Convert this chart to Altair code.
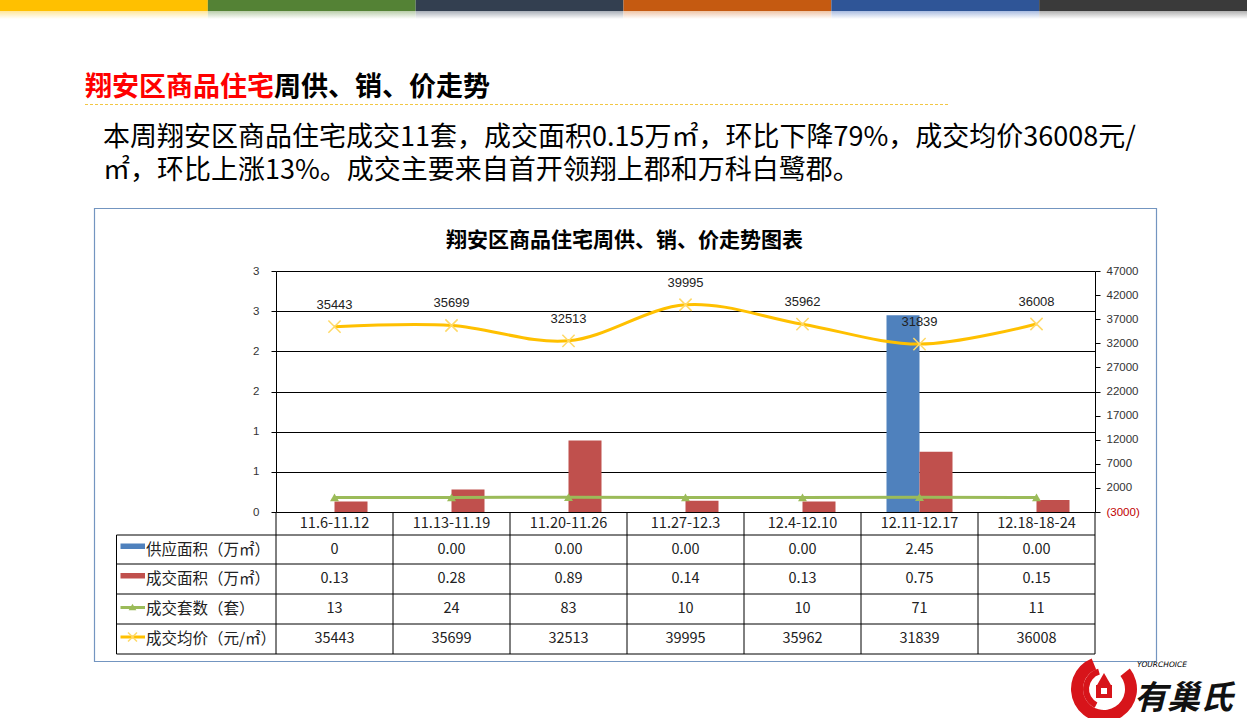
import altair as alt
import pandas as pd

# ---------------- data ----------------
weeks = ["11.6-11.12", "11.13-11.19", "11.20-11.26", "11.27-12.3",
         "12.4-12.10", "12.11-12.17", "12.18-18-24"]
supply_area = [0, 0, 0, 0, 0, 2.45, 0]            # 供应面积（万㎡）
supply_text = ["0", "0.00", "0.00", "0.00", "0.00", "2.45", "0.00"]
sold_area = [0.13, 0.28, 0.89, 0.14, 0.13, 0.75, 0.15]   # 成交面积（万㎡）
sold_units = [13, 24, 83, 10, 10, 71, 11]                 # 成交套数（套）
avg_price = [35443, 35699, 32513, 39995, 35962, 31839, 36008]  # 成交均价（元/㎡）

left_ticks = [0, 0.5, 1, 1.5, 2, 2.5, 3]
right_ticks = [-3000, 2000, 7000, 12000, 17000, 22000, 27000, 32000, 37000, 42000, 47000]

row_names = ["供应面积（万㎡）", "成交面积（万㎡）", "成交套数（套）", "成交均价（元/㎡）"]

page_title_red = "翔安区商品住宅"
page_title_black = "周供、销、价走势"
para_1 = "本周翔安区商品住宅成交11套，成交面积0.15万㎡，环比下降79%，成交均价36008元/"
para_2 = "㎡，环比上涨13%。成交主要来自首开领翔上郡和万科白鹭郡。"
chart_title = "翔安区商品住宅周供、销、价走势图表"

stripe_colors = ["#FFC000", "#548235", "#333F50", "#C55A11", "#2F5597", "#3A3A3A"]
stripe_tints = ["#FFE699", "#B9CDAA", "#A9AFB8", "#EEC4A6", "#AABCE0", "#B0B0B0"]

CJK = "Noto Sans CJK SC"
NUM = "Liberation Sans"

BLUE = "#4F81BD"
RED = "#C0504D"
GREEN = "#9BBB59"
GOLD = "#FFC000"

# plot area in page pixels
PX0, PY0, W, H = 276, 271, 819, 241


def X(v):
    return alt.value(v - PX0)


def Y(v):
    return alt.value(v - PY0)


one = pd.DataFrame({"a": [0]})

df = pd.DataFrame({
    "week": weeks,
    "supply": supply_area,
    "supply_t": supply_text,
    "sold": sold_area,
    "units": sold_units,
    "price": avg_price,
})
df["sold_t"] = [f"{v:.2f}" for v in sold_area]
df["units_t"] = [str(v) for v in sold_units]
df["price_t"] = [str(v) for v in avg_price]

xenc = alt.X("week:N", sort=weeks,
             scale=alt.Scale(domain=weeks, paddingInner=0, paddingOuter=0),
             axis=None, title=None)

left_axis = alt.Axis(
    orient="left", values=left_ticks, labelExpr="format(round(datum.value), 'd')",
    grid=True, gridColor="#000000", gridWidth=1, domain=True, domainColor="#000000",
    ticks=True, tickColor="#000000", tickSize=5, labelFont=NUM, labelFontSize=11.5,
    labelColor="#333333", labelPadding=12, title=None)
left_scale = alt.Scale(domain=[0, 3], nice=False, zero=True)

right_axis = alt.Axis(
    orient="right", values=right_ticks,
    labelExpr="datum.value < 0 ? '(' + format(-datum.value, 'd') + ')' : format(datum.value, 'd')",
    labelColor={"condition": {"test": "datum.value < 0", "value": "#C00000"}, "value": "#333333"},
    grid=False, domain=True, domainColor="#000000", ticks=True, tickColor="#000000",
    tickSize=5, labelFont=NUM, labelFontSize=11.5, labelPadding=6, title=None)
right_scale = alt.Scale(domain=[-3000, 47000], nice=False, zero=False)

# ---------------- bars (left axis) ----------------
blue_bar = alt.Chart(df).mark_bar(size=33, xOffset=-16.5, color=BLUE).encode(
    x=xenc, y=alt.Y("supply:Q", scale=left_scale, axis=left_axis))
red_bar = alt.Chart(df).mark_bar(size=33, xOffset=16.5, color=RED).encode(
    x=xenc, y=alt.Y("sold:Q", scale=left_scale, axis=left_axis))
bars = alt.layer(blue_bar, red_bar)

# ---------------- lines (right axis) ----------------
XSHAPE = "M-1,-1L1,1M-1,1L1,-1"
unit_line = alt.Chart(df).mark_line(color=GREEN, strokeWidth=3).encode(
    x=xenc, y=alt.Y("units:Q", scale=right_scale, axis=right_axis))
unit_pts = alt.Chart(df).mark_point(shape="triangle-up", filled=True, size=80,
                                    color=GREEN, opacity=1).encode(
    x=xenc, y=alt.Y("units:Q", scale=right_scale, axis=right_axis))
price_line = alt.Chart(df).mark_line(color=GOLD, strokeWidth=3, interpolate="cardinal").encode(
    x=xenc, y=alt.Y("price:Q", scale=right_scale, axis=right_axis))
price_pts = alt.Chart(df).mark_point(shape=XSHAPE, filled=False, size=150,
                                     color="#FFD966", strokeWidth=1.5, opacity=1).encode(
    x=xenc, y=alt.Y("price:Q", scale=right_scale, axis=right_axis))
price_lbl = alt.Chart(df).mark_text(dy=-18, baseline="alphabetic", fontSize=13,
                                    font=NUM, color="#222222").encode(
    x=xenc, y=alt.Y("price:Q", scale=right_scale, axis=right_axis), text="price_t:N")
lines = alt.layer(unit_line, unit_pts, price_line, price_pts, price_lbl)

# ---------------- decorations ----------------
deco = []


def text(s, x, y, size, color="#000000", weight="normal", align="left",
         baseline="alphabetic", font=CJK, style="normal", **extra):
    deco.append(alt.Chart(pd.DataFrame({"t": [s]})).mark_text(
        align=align, baseline=baseline, fontSize=size, fontWeight=weight,
        color=color, font=font, fontStyle=style, **extra).encode(x=X(x), y=Y(y), text="t:N"))


def rect(x1, y1, x2, y2, fill=None, stroke=None, sw=1):
    kw = {}
    if fill is not None:
        kw["fill"] = fill
    else:
        kw["fillOpacity"] = 0
        kw["fill"] = "#ffffff"
    if stroke is not None:
        kw["stroke"] = stroke
        kw["strokeWidth"] = sw
    deco.append(alt.Chart(one).mark_rect(**kw).encode(x=X(x1), x2=X(x2), y=Y(y1), y2=Y(y2)))


def rule(x1, y1, x2, y2, color="#000000", sw=1, dash=None):
    kw = {"color": color, "strokeWidth": sw}
    if dash:
        kw["strokeDash"] = dash
    deco.append(alt.Chart(one).mark_rule(**kw).encode(x=X(x1), x2=X(x2), y=Y(y1), y2=Y(y2)))


# top stripes
sw_ = 1247 / 6
for i, (c, t) in enumerate(zip(stripe_colors, stripe_tints)):
    rect(i * sw_, 0, (i + 1) * sw_, 11, fill=c)
    grad = alt.LinearGradient(gradient="linear",
                              stops=[alt.GradientStop(color=t, offset=0),
                                     alt.GradientStop(color="#ffffff", offset=1)],
                              x1=0, x2=0, y1=0, y2=1)
    deco.append(alt.Chart(one).mark_rect(color=grad).encode(
        x=X(i * sw_), x2=X((i + 1) * sw_), y=Y(11), y2=Y(19)))

# page title
text(page_title_red, 85, 96, 27, color="#FF0000", weight="bold")
text(page_title_black, 274, 96, 27, color="#000000", weight="bold")
rule(85, 104.5, 948, 104.5, color="#F2C744", sw=1, dash=[3, 2])

# paragraph (two lines in one text mark)
text(para_1 + "\n" + para_2, 103, 146, 27, color="#000000",
     lineBreak="\n", lineHeight=32.5)

# chart box
rect(94.5, 208.5, 1156.5, 661.5, stroke="#7395C0", sw=1.2)
text(chart_title, 624.5, 247, 21, weight="bold", align="center")

# ---------------- table ----------------
T_TOP, T_HDR, T_BOT = 512, 535, 654
row_lines = [535, 564, 594, 624, 654]
row_mid = [549.5, 579, 609, 639]
TL = 116.5

# vertical column separators (category band starts) + right edge
deco.append(alt.Chart(df).mark_rule(color="#000000", strokeWidth=1).encode(
    x=alt.X("week:N", sort=weeks, bandPosition=0,
            scale=alt.Scale(domain=weeks, paddingInner=0, paddingOuter=0), axis=None),
    y=Y(T_TOP), y2=Y(T_BOT)))
rule(PX0 + W, T_TOP, PX0 + W, T_BOT)
rule(TL, T_HDR, TL, T_BOT)
for yy in row_lines:
    rule(TL, yy, PX0 + W, yy)

# header row (week labels)
deco.append(alt.Chart(df).mark_text(baseline="middle", fontSize=14.5, font=CJK,
                                    color="#222222").encode(
    x=xenc, y=Y(523.5), text="week:N"))
# data rows
for field, ym in zip(["supply_t", "sold_t", "units_t", "price_t"], row_mid):
    deco.append(alt.Chart(df).mark_text(baseline="middle", fontSize=14.5, font=CJK,
                                        color="#222222").encode(
        x=xenc, y=Y(ym), text=f"{field}:N"))

# row headers with legend keys
for name, ym in zip(row_names, row_mid):
    text(name, 146, ym, 15.5, color="#222222", baseline="middle")
rect(120.5, 543.5, 145, 549, fill=BLUE)
rect(120.5, 573, 145, 578.5, fill=RED)
rule(120.5, 607.5, 145, 607.5, color=GREEN, sw=3)
deco.append(alt.Chart(one).mark_point(shape="triangle-up", filled=True, size=60,
                                      color=GREEN, opacity=1).encode(x=X(132.5), y=Y(607)))
rule(120.5, 637, 145, 637, color=GOLD, sw=3)
deco.append(alt.Chart(one).mark_point(shape=XSHAPE, filled=False, size=80,
                                      color="#FFD966", strokeWidth=1.5, opacity=1).encode(
    x=X(132.5), y=Y(637)))

# ---------------- logo ----------------
deco.append(alt.Chart(one).mark_arc(radius=33, radius2=21, theta=0.9, theta2=5.9,
                                    color="#D7141A").encode(x=X(1104), y=Y(689)))
deco.append(alt.Chart(one).mark_arc(radius=21, radius2=15, theta=3.6, theta2=6.0,
                                    color="#D7141A").encode(x=X(1104), y=Y(689)))
rect(1096, 685, 1112, 698, fill="#D7141A")
deco.append(alt.Chart(one).mark_point(shape="triangle-up", filled=True, size=260,
                                      color="#D7141A", opacity=1).encode(x=X(1104), y=Y(680)))
rect(1101, 688, 1107, 694, fill="#ffffff")
text("YOURCHOICE", 1137, 667, 7.5, color="#000000", style="italic", font="DejaVu Sans")
text("有巢氏", 1134, 709, 33, color="#111111", weight="bold", style="italic")

chart = alt.layer(bars, lines, *deco).resolve_scale(y="independent").properties(
    width=W, height=H,
    padding={"left": PX0, "top": PY0, "right": 1247 - PX0 - W, "bottom": 718 - PY0 - H},
    autosize=alt.AutoSizeParams(type="none"),
    background="#ffffff",
).configure_view(stroke=None)

chart.save("out.html", embed_options={"renderer": "svg", "actions": False})
